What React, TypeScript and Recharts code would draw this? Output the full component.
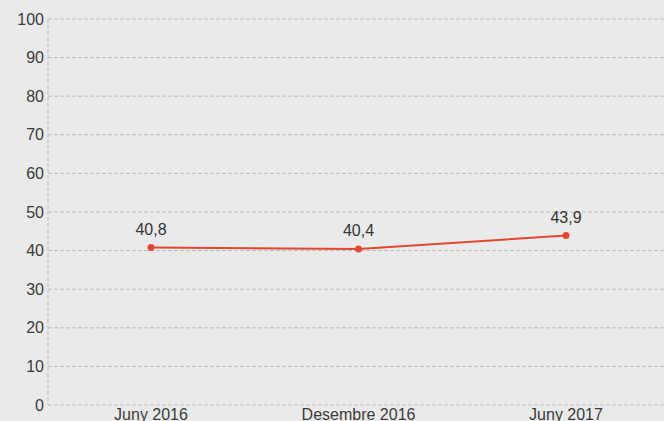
import { LineChart, Line, XAxis, YAxis, CartesianGrid, LabelList } from 'recharts';

const periods = ['Juny 2016', 'Desembre 2016', 'Juny 2017'];
const values = [40.8, 40.4, 43.9];
const yTicks = [0, 10, 20, 30, 40, 50, 60, 70, 80, 90, 100];

const data = periods.map((p, i) => ({ period: p, value: values[i] }));

const font = '"Liberation Sans", Arial, Helvetica, sans-serif';

export default function App() {
  return (
    <div
      style={{
        position: 'absolute',
        left: 0,
        top: 0,
        width: 664,
        height: 421,
        overflow: 'hidden',
        background: '#eaeaea',
        fontFamily: font,
      }}
    >
      <LineChart
        width={669}
        height={440}
        data={data}
        margin={{ top: 19, right: 0, bottom: 0, left: 0 }}
      >
        <CartesianGrid vertical={false} stroke="#bdbdbd" strokeDasharray="4 2" />
        <XAxis
          dataKey="period"
          axisLine={false}
          tickLine={false}
          tickSize={2}
          height={35}
          padding={{ left: 103, right: 103 }}
          tick={{ fontSize: 16, fill: '#3a3a3a', fontFamily: font }}
        />
        <YAxis
          domain={[0, 100]}
          ticks={yTicks}
          width={48}
          interval={0}
          tickLine={false}
          tickSize={2}
          axisLine={{ stroke: '#bdbdbd', strokeDasharray: '4 2' }}
          tick={{ fontSize: 16, fill: '#3a3a3a', fontFamily: font }}
        />
        <Line
          type="linear"
          dataKey="value"
          stroke="#e2472f"
          strokeWidth={2}
          dot={{ r: 2.5, fill: '#e2472f', stroke: '#e2472f' }}
          isAnimationActive={false}
        >
          <LabelList
            dataKey="value"
            position="top"
            offset={13}
            formatter={(v: number) => String(v).replace('.', ',')}
            style={{ fontSize: 16, fill: '#333', fontFamily: font }}
          />
        </Line>
      </LineChart>
    </div>
  );
}
